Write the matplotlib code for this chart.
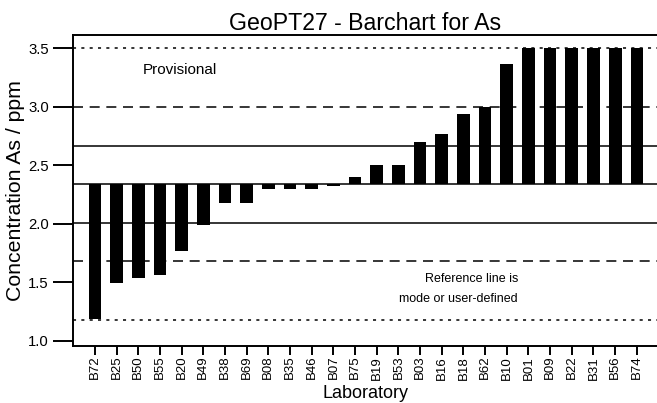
import matplotlib
matplotlib.use("Agg")
import matplotlib.pyplot as plt

plt.rcParams["font.family"] = ["Liberation Sans", "DejaVu Sans"]
plt.rcParams["lines.scale_dashes"] = False

# laboratories, sorted by reported value
labs = ["B72", "B25", "B50", "B55", "B20", "B49", "B38", "B69", "B08", "B35",
        "B46", "B07", "B75", "B19", "B53", "B03", "B16", "B18", "B62", "B10",
        "B01", "B09", "B22", "B31", "B56", "B74"]
values = [1.184, 1.491, 1.539, 1.562, 1.770, 1.990, 2.180, 2.180, 2.295, 2.295,
          2.295, 2.326, 2.403, 2.503, 2.503, 2.702, 2.768, 2.938, 2.996, 3.366,
          3.5, 3.5, 3.5, 3.5, 3.5, 3.5]

# reference value and the z-score lines around it
ref_value = 2.34
solid_lines = [2.668, 2.009]
dashed_lines = [2.996, 1.682]
dotted_lines = [3.5, 1.178]

fig = plt.figure(figsize=(6.57, 4.03), dpi=100)
ax = fig.add_axes([73.3 / 657, 1 - 345.7 / 403, 1 - 73.3 / 657, (345.7 - 34.8) / 403])

x = list(range(len(labs)))
heights = [v - ref_value for v in values]

ax.axhline(ref_value, color="black", lw=1.1, zorder=1)
for y in solid_lines:
    ax.axhline(y, color="black", lw=1.1, zorder=1)
for y in dashed_lines:
    ax.axhline(y, color="black", lw=1.1, dashes=(7.2, 4.8), zorder=1)
for y in dotted_lines:
    ax.axhline(y, color="black", lw=1.1, dashes=(2.2, 3.8), zorder=1)

ax.bar(x, heights, bottom=ref_value, width=0.585, color="black", zorder=2)

ax.set_xlim(-1, 25.93)
ax.set_ylim(0.957, 3.615)
ax.set_yticks([1.0, 1.5, 2.0, 2.5, 3.0, 3.5])
ax.set_yticklabels(["1.0", "1.5", "2.0", "2.5", "3.0", "3.5"])
ax.set_xticks(x)
ax.set_xticklabels(labs, rotation=90, fontsize=9.5)

ax.tick_params(axis="y", length=14.4, width=1.4, pad=3.2, labelsize=10.7)
ax.tick_params(axis="x", length=6.8, width=1.4, pad=0.5)
for side in ["left", "bottom", "top"]:
    ax.spines[side].set_linewidth(1.4)
ax.spines["right"].set_visible(False)

ax.set_title("GeoPT27 - Barchart for As", fontsize=16.7, pad=3)
ax.set_ylabel("Concentration As / ppm", fontsize=15.3, labelpad=2)
ax.set_xlabel("Laboratory", fontsize=13)
ax.xaxis.set_label_coords(0.5, -0.128)

ax.text(2.215, 3.315, "Provisional", fontsize=11,
        ha="left", va="center")
ax.text(19.52, 1.526, "Reference line is", fontsize=9,
        ha="right", va="center")
ax.text(19.52, 1.357, "mode or user-defined", fontsize=9,
        ha="right", va="center")

fig.savefig("out.png", dpi=100)
